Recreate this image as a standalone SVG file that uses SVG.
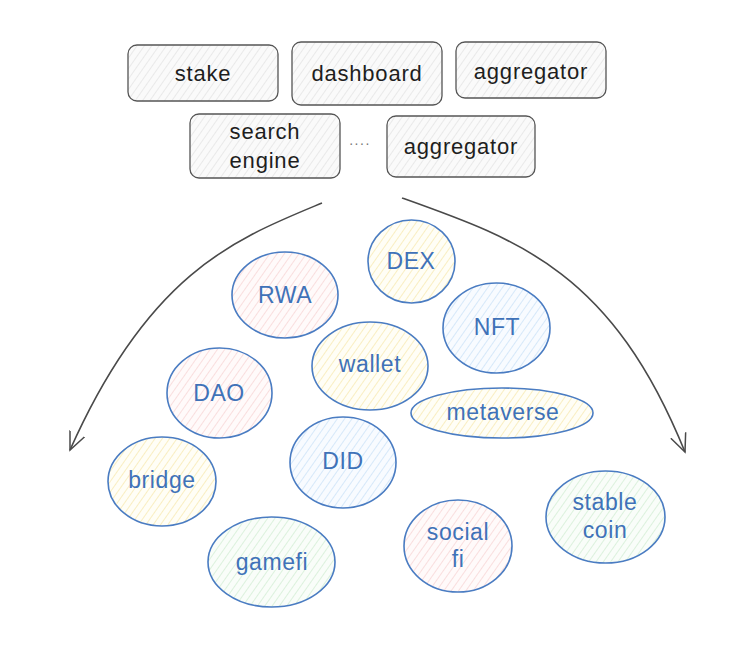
<svg xmlns="http://www.w3.org/2000/svg" width="750" height="653" viewBox="0 0 750 653">
<defs>
<pattern id="hGray" width="6" height="6" patternUnits="userSpaceOnUse" patternTransform="rotate(35)">
<rect width="6" height="6" fill="#fafafa"/>
<line x1="0" y1="0" x2="0" y2="6" stroke="#d8d8d8" stroke-width="1"/>
</pattern>
<pattern id="hPink" width="6" height="6" patternUnits="userSpaceOnUse" patternTransform="rotate(35)">
<rect width="6" height="6" fill="#fffafa"/>
<line x1="0" y1="0" x2="0" y2="6" stroke="#f6cccc" stroke-width="1.2"/>
</pattern>
<pattern id="hYellow" width="6" height="6" patternUnits="userSpaceOnUse" patternTransform="rotate(35)">
<rect width="6" height="6" fill="#fffef6"/>
<line x1="0" y1="0" x2="0" y2="6" stroke="#f5e4a0" stroke-width="1.2"/>
</pattern>
<pattern id="hBlue" width="6" height="6" patternUnits="userSpaceOnUse" patternTransform="rotate(35)">
<rect width="6" height="6" fill="#f8fbff"/>
<line x1="0" y1="0" x2="0" y2="6" stroke="#c0dcf6" stroke-width="1.2"/>
</pattern>
<pattern id="hGreen" width="6" height="6" patternUnits="userSpaceOnUse" patternTransform="rotate(35)">
<rect width="6" height="6" fill="#f9fdf9"/>
<line x1="0" y1="0" x2="0" y2="6" stroke="#c9eacb" stroke-width="1.2"/>
</pattern>
<marker id="arrow" viewBox="0 0 20 20" refX="18" refY="10" markerWidth="20" markerHeight="20" markerUnits="userSpaceOnUse" orient="auto">
<path d="M0,2 L18,10 L0,18" fill="none" stroke="#4a4a4a" stroke-width="1.5"/>
</marker>
<style>
.box{fill:url(#hGray);stroke:#555;stroke-width:1.3}
.bt{font-family:"Liberation Sans","Noto Sans",sans-serif;font-size:22px;letter-spacing:0.8px;fill:#1e1e1e;text-anchor:middle;dominant-baseline:central}
.el{stroke:#4a7cc2;stroke-width:1.6}
.et{font-family:"Liberation Sans","Noto Sans",sans-serif;font-size:23px;letter-spacing:0.6px;fill:#3f72b8;text-anchor:middle;dominant-baseline:central}
.pink{fill:url(#hPink)}
.yellow{fill:url(#hYellow)}
.blue{fill:url(#hBlue)}
.green{fill:url(#hGreen)}
.conn{fill:none;stroke:#4a4a4a;stroke-width:1.6}
</style>
</defs>
<rect width="750" height="653" fill="#ffffff"/>

<g id="stake"><rect class="box" x="128" y="45" width="150" height="56" rx="9"/><text class="bt" x="203" y="73">stake</text></g>
<g id="dashboard"><rect class="box" x="292" y="42" width="150" height="63" rx="9"/><text class="bt" x="367" y="73">dashboard</text></g>
<g id="aggregator1"><rect class="box" x="456" y="42" width="150" height="56" rx="9"/><text class="bt" x="531" y="71">aggregator</text></g>
<g id="search-engine"><rect class="box" x="190" y="114" width="150" height="64" rx="9"/><text class="bt" x="265" y="131">search</text><text class="bt" x="265" y="160">engine</text></g>
<g id="ellipsis"><text x="360" y="145" font-family="Liberation Sans, sans-serif" font-size="14" fill="#777" text-anchor="middle" letter-spacing="1.5">....</text></g>
<g id="aggregator2"><rect class="box" x="387" y="116" width="148" height="61" rx="9"/><text class="bt" x="461" y="146">aggregator</text></g>

<g id="connectors">
<path class="conn" d="M322,203 C238,238 150,270 70,450" marker-end="url(#arrow)"/>
<path class="conn" d="M402,198 C520,240 612,272 685,452" marker-end="url(#arrow)"/>
</g>

<g id="DEX"><ellipse class="el yellow" cx="411.5" cy="261.5" rx="43.5" ry="41.5"/><text class="et" x="411" y="261">DEX</text></g>
<g id="RWA"><ellipse class="el pink" cx="285" cy="295" rx="53" ry="43"/><text class="et" x="285" y="295">RWA</text></g>
<g id="NFT"><ellipse class="el blue" cx="496.5" cy="328" rx="53.5" ry="45"/><text class="et" x="497" y="327">NFT</text></g>
<g id="wallet"><ellipse class="el yellow" cx="370" cy="366" rx="58" ry="44"/><text class="et" x="370" y="364">wallet</text></g>
<g id="metaverse"><ellipse class="el yellow" cx="502" cy="413" rx="91" ry="25"/><text class="et" x="503" y="412">metaverse</text></g>
<g id="DAO"><ellipse class="el pink" cx="219.5" cy="393" rx="52.5" ry="45"/><text class="et" x="219" y="393">DAO</text></g>
<g id="bridge"><ellipse class="el yellow" cx="162" cy="481.5" rx="54" ry="44.5"/><text class="et" x="162" y="480">bridge</text></g>
<g id="DID"><ellipse class="el blue" cx="343" cy="462.5" rx="53" ry="45.5"/><text class="et" x="343" y="461">DID</text></g>
<g id="gamefi"><ellipse class="el green" cx="271.5" cy="562" rx="63.5" ry="45"/><text class="et" x="272" y="562">gamefi</text></g>
<g id="socialfi"><ellipse class="el pink" cx="458" cy="546" rx="54" ry="46"/><text class="et" x="458" y="532">social</text><text class="et" x="458" y="559">fi</text></g>
<g id="stablecoin"><ellipse class="el green" cx="605.5" cy="517" rx="59.5" ry="46"/><text class="et" x="605" y="502">stable</text><text class="et" x="605" y="530">coin</text></g>
</svg>
